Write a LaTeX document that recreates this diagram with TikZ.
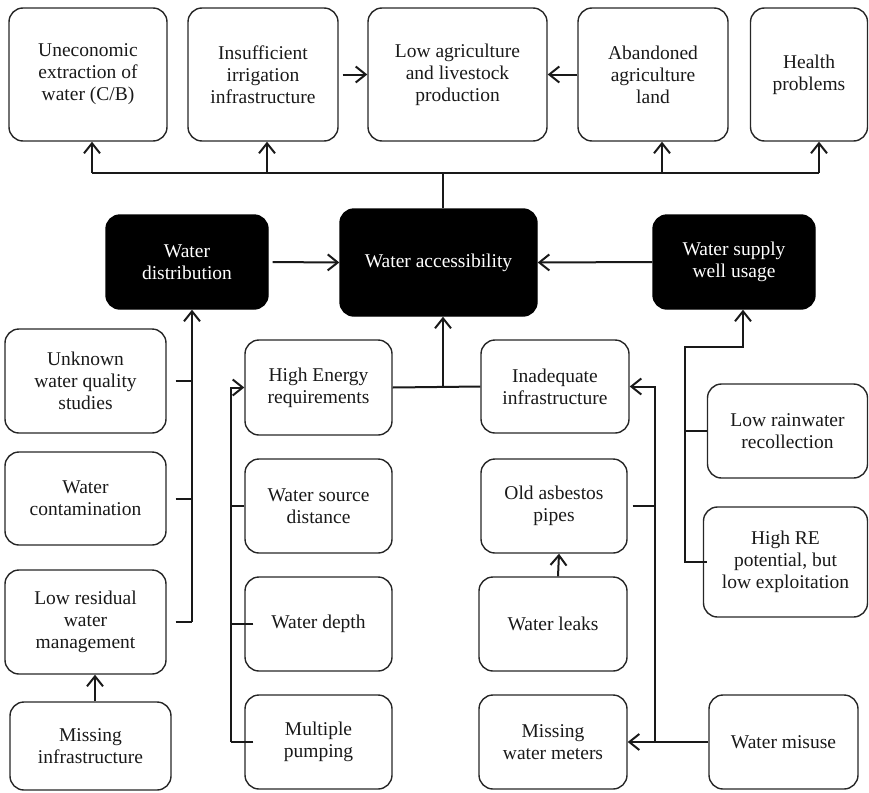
\documentclass[tikz,border=0pt]{standalone}
\usepackage{fontspec}
\setmainfont{Liberation Serif}
\usetikzlibrary{arrows.meta}
\begin{document}
\begin{tikzpicture}[x=1pt,y=-1pt,
  wbox/.style={draw=black!85, line width=1.4pt, rounded corners=14pt, align=center,
    font=\fontsize{19.5}{22}\selectfont, inner sep=0pt, text=black!90},
  bbox/.style={wbox, fill=black, draw=black, text=white},
  conn/.style={line width=2pt, draw=black!90},
  arr/.style={conn, -{Straight Barb[length=10pt,width=16pt]}}]
\useasboundingbox (0,0) rectangle (869,792);
% top row
\node[wbox, minimum width=158pt, minimum height=133pt] (b1) at (88,74.5) {Uneconomic\\extraction of\\water (C/B)};
\node[wbox, minimum width=150pt, minimum height=133pt] (b2) at (263,74.5) {Insufficient\\irrigation\\infrastructure};
\node[wbox, minimum width=179pt, minimum height=133pt] (b3) at (457.5,74.5) {Low agriculture\\and livestock\\production};
\node[wbox, minimum width=150pt, minimum height=133pt] (b4) at (653,74.5) {Abandoned\\agriculture\\land};
\node[wbox, minimum width=117pt, minimum height=133pt] (b5) at (809,74.5) {Health\\problems};
% black boxes
\node[bbox, minimum width=162pt, minimum height=94pt] (wd) at (187,262) {Water\\distribution};
\node[bbox, minimum width=197pt, minimum height=107pt] (wa) at (438.5,262.5) {Water accessibility};
\node[bbox, minimum width=162pt, minimum height=94pt] (ws) at (734,262) {Water supply\\well usage};
% left column
\node[wbox, minimum width=161pt, minimum height=104pt] (l1) at (85.5,381) {Unknown\\water quality\\studies};
\node[wbox, minimum width=161pt, minimum height=93pt] (l2) at (85.5,498.5) {Water\\contamination};
\node[wbox, minimum width=161pt, minimum height=104pt] (l3) at (85.5,622) {Low residual\\water\\management};
\node[wbox, minimum width=161pt, minimum height=88pt] (l4) at (90.5,746) {Missing\\infrastructure};
% middle column
\node[wbox, minimum width=147pt, minimum height=95pt] (m1) at (318.5,387.5) {High Energy\\requirements};
\node[wbox, minimum width=147pt, minimum height=94pt] (m2) at (318.5,506) {Water source\\distance};
\node[wbox, minimum width=147pt, minimum height=94pt] (m3) at (318.5,624) {Water depth};
\node[wbox, minimum width=147pt, minimum height=94pt] (m4) at (318.5,742) {Multiple\\pumping};
% right-middle column
\node[wbox, minimum width=148pt, minimum height=93pt] (r1) at (555,386.5) {Inadequate\\infrastructure};
\node[wbox, minimum width=146pt, minimum height=94pt] (r2) at (554,506) {Old asbestos\\pipes};
\node[wbox, minimum width=148pt, minimum height=94pt] (r3) at (553,624) {Water leaks};
\node[wbox, minimum width=148pt, minimum height=94pt] (r4) at (553,742) {Missing\\water meters};
% far right column
\node[wbox, minimum width=160pt, minimum height=94pt] (f1) at (787.5,431) {Low rainwater\\recollection};
\node[wbox, minimum width=164pt, minimum height=110pt] (f2) at (785.5,562) {High RE\\potential, but\\low exploitation};
\node[wbox, minimum width=149pt, minimum height=94pt] (f3) at (783.5,742) {Water misuse};
% coordinates
\coordinate (busL) at (92,173);
\coordinate (busR) at (819,173);
\coordinate (s2) at (267,173);
\coordinate (s4) at (662,173);
\coordinate (vC) at (443,0);
\coordinate (vL) at (192,0);
\coordinate (vM) at (231,0);
\coordinate (vR) at (655,0);
\coordinate (vF) at (685,0);
\coordinate (kF) at (743,347);
% top bus
\draw[conn] (vC |- wa.north) -- (vC |- busL);
\draw[conn] (busL) -- (busR);
\draw[arr] (busL) -- (busL |- b1.south);
\draw[arr] (s2) -- (s2 |- b2.south);
\draw[arr] (s4) -- (s4 |- b4.south);
\draw[arr] (busR) -- (busR |- b5.south);
\draw[arr, shorten <=4pt] (b2.east) -- (b3.west);
\draw[arr] (b4.west) -- (b3.east);
% black boxes
\draw[arr, shorten <=4pt] (wd.east) -- (wa.west);
\draw[arr] (ws.west) -- (wa.east);
% left
\draw[arr] (vL |- l3.east) -- (vL |- wd.south);
\draw[conn] ([xshift=9pt]l1.east) -- (l1.east -| vL);
\draw[conn] ([xshift=9pt]l2.east) -- (l2.east -| vL);
\draw[conn] ([xshift=9pt]l3.east) -- (l3.east -| vL);
\draw[arr] ([xshift=4.5pt]l4.north) -- ([xshift=9.5pt]l3.south);
% middle
\draw[arr] (vM |- m4.west) -- (vM |- m1.west) -- (m1.west);
\draw[conn] (m2.west) -- (m2.west -| vM);
\draw[conn] ([xshift=9pt]m3.west) -- (m3.west -| vM);
\draw[conn] ([xshift=9pt]m4.west) -- (m4.west -| vM);
% center
\draw[conn] (m1.east) -- (r1.west);
\draw[arr] (vC |- m1.east) -- (vC |- wa.south);
% right-middle
\draw[arr] (f3.west) -- (r4.east);
\draw[arr] (vR |- r4.east) -- (vR |- r1.east) -- (r1.east);
\draw[conn] ([xshift=5pt]r2.east) -- (r2.east -| vR);
\draw[arr] ([xshift=5pt]r3.north) -- ([xshift=5pt]r2.south);
% far right
\draw[arr] ([xshift=4pt]f2.west) -- (vF |- f2.west) -- (vF |- kF) -- (kF) -- (kF |- ws.south);
\draw[conn] (f1.west) -- (f1.west -| vF);
\end{tikzpicture}
\end{document}
